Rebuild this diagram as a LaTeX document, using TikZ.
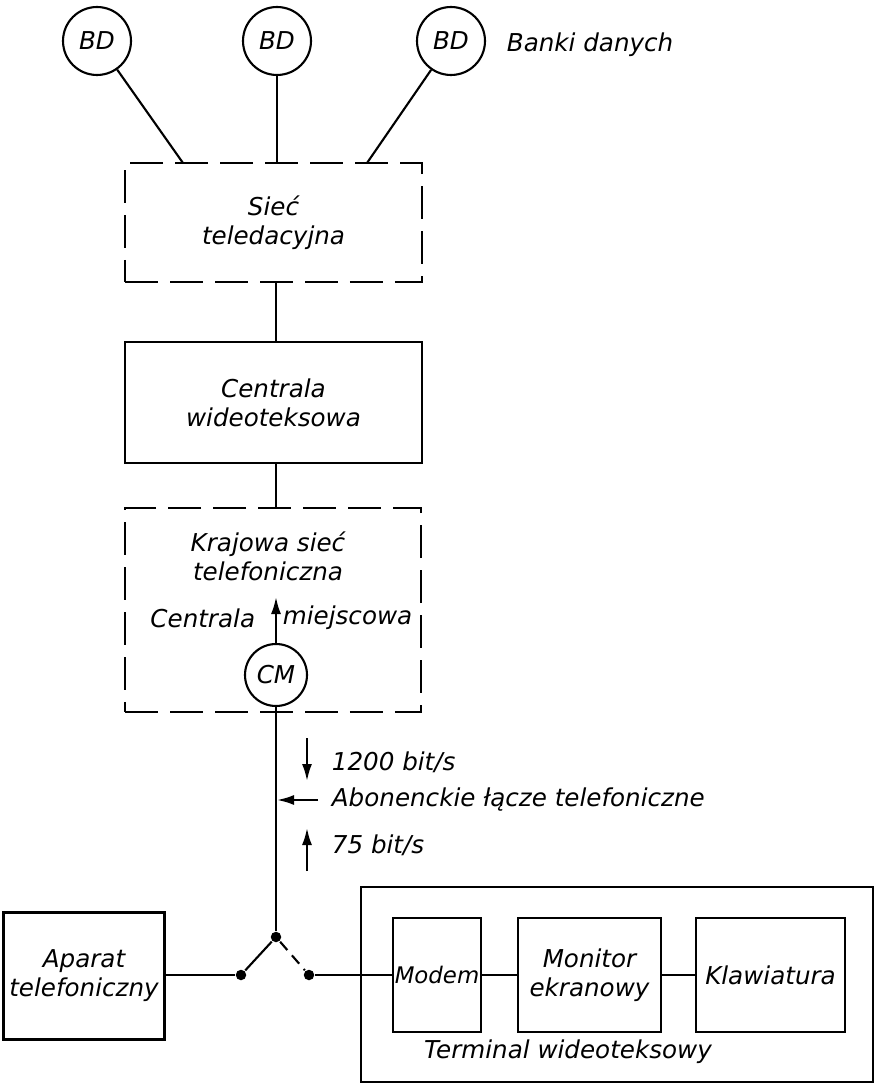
\documentclass[tikz,border=0pt]{standalone}
\usepackage{fontspec}
\setmainfont{DejaVu Sans}
\usetikzlibrary{arrows.meta}

\begin{document}
\begin{tikzpicture}[x=0.02cm,y=-0.02cm,line width=1.2pt,
        font=\fontsize{14}{16.5}\selectfont\itshape,
        bank/.style={shape=circle,draw=black,minimum size=1.36cm,inner sep=0pt},
        blok/.style={shape=rectangle,draw=black,line width=1.6pt,align=center},
        siecbox/.style={shape=rectangle,draw=black,line width=1.5pt,dash pattern=on 0.66cm off 0.24cm},
        styk/.style={shape=circle,fill=black,minimum size=0.21cm,inner sep=0pt},
        strzalka/.style={-{Latex[length=0.34cm,width=0.2cm]}}]
        \useasboundingbox (0,0) rectangle (876,1084);

        \node[bank] (BD1) at (97,41)  {BD};
        \node[bank] (BD2) at (277,41) {BD};
        \node[bank] (BD3) at (451,41) {BD};
        \node[anchor=west] (banki) at (500,45) {Banki danych};

        \node[siecbox,minimum width=5.94cm,minimum height=2.38cm,align=center] (siec) at (273.5,222.5) {Sieć\\teledacyjna};
        \node[blok,minimum width=5.94cm,minimum height=2.42cm] (centrala) at (273.5,402.5) {Centrala\\wideoteksowa};
        \node[siecbox,minimum width=5.92cm,minimum height=4.08cm] (krajowa) at (273,610) {};
        \node[align=center] (krajtxt) at (268,556) {Krajowa sieć\\telefoniczna};
        \node[bank,minimum size=1.24cm] (CM) at (276,675) {CM};
        \node[anchor=east] (centr) at (262,618) {Centrala};
        \node[anchor=west] (miejsc) at (276,618) {miejscowa};

        \coordinate (s1) at (183,163);
        \coordinate (s2) at (277,163);
        \coordinate (s3) at (367,163);
        \coordinate (cmtop) at (276,597);

        % tacze abonenckie
        \node[styk] (piv) at (276,937) {};
        \node[styk] (kl)  at (241,975) {};
        \node[styk] (kp)  at (309,975) {};
        \coordinate (d1) at (307,738);
        \coordinate (d2) at (307,781);
        \coordinate (l1) at (318,800);
        \coordinate (l2) at (277,800);
        \coordinate (u1) at (307,871);
        \coordinate (u2) at (307,828);
        \node[anchor=west] (r1200) at (325,762) {1200 bit/s};
        \node[anchor=west] (abon)  at (325,800) {Abonenckie łącze telefoniczne};
        \node[anchor=west] (r75)   at (325,845) {75 bit/s};

        \node[blok,minimum width=3.04cm,minimum height=2.54cm] (aparat) at (84,976) {Aparat\\telefoniczny};
        \node[blok,minimum width=10.24cm,minimum height=3.9cm] (terminal) at (617,984.5) {};
        \node (termtxt) at (568,1052) {Terminal wideoteksowy};
        \node[blok,minimum width=1.68cm,minimum height=2.28cm,inner sep=1pt,font=\fontsize{13}{15}\selectfont\itshape] (modem) at (437,975) {Modem};
        \node[blok,minimum width=2.86cm,minimum height=2.28cm] (monitor) at (589.5,975) {Monitor\\ekranowy};
        \node[blok,minimum width=2.98cm,minimum height=2.28cm] (klaw) at (770.5,975) {Klawiatura};

        \path [-](BD1) edge (s1);
        \path [-](BD2) edge (s2);
        \path [-](BD3) edge (s3);
        \path [-](siec.south -| CM) edge (centrala.north -| CM);
        \path [-](centrala.south -| CM) edge (krajowa.north -| CM);
        \path [strzalka](CM) edge (cmtop);
        \path [-](CM) edge (piv);
        \path [-](piv) edge (kl);
        \path [-,dash pattern=on 0.22cm off 0.14cm](piv) edge (kp);
        \path [-](aparat.east |- kl) edge (kl);
        \path [-](kp) edge (modem);
        \path [-](modem) edge (monitor);
        \path [-](monitor) edge (klaw);
        \path [strzalka](d1) edge (d2);
        \path [strzalka](l1) edge (l2);
        \path [strzalka](u1) edge (u2);
    \end{tikzpicture}
\end{document}
